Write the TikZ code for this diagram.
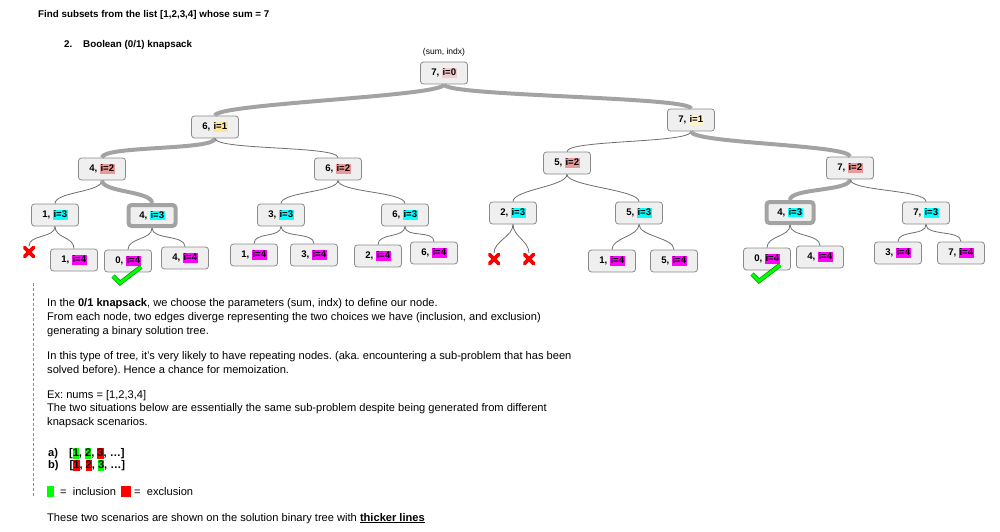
\documentclass[tikz,border=0pt]{standalone}
\usepackage{fontspec}
\setmainfont{Liberation Sans}
\frenchspacing

\definecolor{NodeFill}{HTML}{EFEFEF}
\definecolor{NodeLine}{HTML}{8A8A8A}
\definecolor{HeavyGray}{HTML}{A3A3A3}
\definecolor{LinkGray}{HTML}{6E6E6E}
\definecolor{IdxZero}{HTML}{F4CCCC}
\definecolor{IdxOne}{HTML}{FFE599}
\definecolor{IdxOneLight}{HTML}{FFF2CC}
\definecolor{IdxTwo}{HTML}{EA9999}
\definecolor{IdxThree}{HTML}{00FFFF}
\definecolor{IdxFour}{HTML}{FF00FF}
\definecolor{Incl}{HTML}{00FF00}
\definecolor{Excl}{HTML}{FF0000}

\newcommand{\hilite}[2]{{\setlength{\fboxsep}{0.5pt}\colorbox{#1}{\rule[-1.5pt]{0pt}{8.6pt}#2}}}
\newcommand{\pick}[2]{{\setlength{\fboxsep}{0pt}\colorbox{#1}{\rule[-2.5pt]{0pt}{9.8pt}#2}}}

\begin{document}
\begin{tikzpicture}[x=1pt, y=-1pt]
	\tikzstyle{State}	= [rectangle, rounded corners=3pt, draw=NodeLine, fill=NodeFill, line width=0.8pt, minimum width=47pt, minimum height=22pt, inner sep=0pt, font=\fontsize{9.6}{11}\selectfont\bfseries]
	\tikzstyle{Memo}	= [State, draw=HeavyGray, line width=4pt, minimum height=21pt]
	\tikzstyle{Dead}	= [minimum size=11.5pt, inner sep=0pt, path picture={\draw [Excl, line width=3.6pt] (path picture bounding box.north west) -- (path picture bounding box.south east) (path picture bounding box.north east) -- (path picture bounding box.south west);}]
	\tikzstyle{Link}	= [draw=LinkGray, line width=0.8pt, to path={(\tikztostart.south) .. controls +(0pt,-12pt) and +(0pt,12pt) .. (\tikztotarget.north)}]
	\tikzstyle{Heavy}	= [draw=HeavyGray, line width=4pt]
	\tikzstyle{Tick}	= [draw=green!55!black, line width=0.7pt, double=Incl, double distance=3pt]
	\tikzstyle{Guide}	= [draw=black!45, line width=0.6pt, dash pattern=on 3pt off 2pt]
	\tikzstyle{Note}	= [anchor=base west, inner sep=0pt, font=\fontsize{11.1}{13}\selectfont]
	\tikzstyle{Head}	= [Note, font=\fontsize{9.8}{12}\selectfont\bfseries]

	\useasboundingbox (0,0) rectangle (1000,532);

	% header
	\node (title) at (38,17.5) [Head] {Find subsets from the list [1,2,3,4] whose sum = 7};
	\node (num) at (64,47.5) [Head] {2.};
	\node (method) at (83,47.5) [Head] {Boolean (0/1) knapsack};
	\node (key) at (444,52) [inner sep=0pt, font=\fontsize{8.5}{10}\selectfont] {(sum, indx)};

	% solution tree
	\node (v) at (444,73) [State] {7, \hilite{IdxZero}{i=0}};
	\node (vL) at (215,127) [State] {6, \hilite{IdxOne}{i=1}};
	\node (vR) at (691,120) [State] {7, \hilite{IdxOneLight}{i=1}};

	\node (vLL) at (102,169) [State] {4, \hilite{IdxTwo}{i=2}};
	\node (vLR) at (338,169) [State] {6, \hilite{IdxTwo}{i=2}};
	\node (vRL) at (567,163) [State] {5, \hilite{IdxTwo}{i=2}};
	\node (vRR) at (850,168) [State] {7, \hilite{IdxTwo}{i=2}};

	\node (vLLL) at (55,215) [State] {1, \hilite{IdxThree}{i=3}};
	\node (vLLR) at (152,215.5) [Memo] {4, \hilite{IdxThree}{i=3}};
	\node (vLRL) at (281,215) [State] {3, \hilite{IdxThree}{i=3}};
	\node (vLRR) at (405,215) [State] {6, \hilite{IdxThree}{i=3}};
	\node (vRLL) at (513,213) [State] {2, \hilite{IdxThree}{i=3}};
	\node (vRLR) at (639,213) [State] {5, \hilite{IdxThree}{i=3}};
	\node (vRRL) at (790,212.5) [Memo] {4, \hilite{IdxThree}{i=3}};
	\node (vRRR) at (926,213) [State] {7, \hilite{IdxThree}{i=3}};

	\node (vLLLL) at (29,252) [Dead] {};
	\node (vLLLR) at (74,260) [State] {1, \hilite{IdxFour}{i=4}};
	\node (vLLRL) at (128,261) [State] {0, \hilite{IdxFour}{i=4}};
	\node (vLLRR) at (185,258) [State] {4, \hilite{IdxFour}{i=4}};
	\node (vLRLL) at (254,255) [State] {1, \hilite{IdxFour}{i=4}};
	\node (vLRLR) at (314,255) [State] {3, \hilite{IdxFour}{i=4}};
	\node (vLRRL) at (378,256) [State] {2, \hilite{IdxFour}{i=4}};
	\node (vLRRR) at (434,253) [State] {6, \hilite{IdxFour}{i=4}};
	\node (vRLLL) at (494,259) [Dead] {};
	\node (vRLLR) at (529,259) [Dead] {};
	\node (vRLRL) at (612,261) [State] {1, \hilite{IdxFour}{i=4}};
	\node (vRLRR) at (674,261) [State] {5, \hilite{IdxFour}{i=4}};
	\node (vRRLL) at (767,259) [State] {0, \hilite{IdxFour}{i=4}};
	\node (vRRLR) at (820,257) [State] {4, \hilite{IdxFour}{i=4}};
	\node (vRRRL) at (898,253) [State] {3, \hilite{IdxFour}{i=4}};
	\node (vRRRR) at (961,253) [State] {7, \hilite{IdxFour}{i=4}};

	\draw [Link] (v) to (vL) [Heavy];
	\draw [Link] (v) to (vR) [Heavy];
	\draw [Link] (vL) to (vLL) [Heavy];
	\draw [Link] (vL) to (vLR);
	\draw [Link] (vR) to (vRL);
	\draw [Link] (vR) to (vRR) [Heavy];
	\draw [Link] (vLL) to (vLLL);
	\draw [Link] (vLL) to (vLLR) [Heavy];
	\draw [Link] (vLR) to (vLRL);
	\draw [Link] (vLR) to (vLRR);
	\draw [Link] (vRL) to (vRLL);
	\draw [Link] (vRL) to (vRLR);
	\draw [Link] (vRR) to (vRRL) [Heavy];
	\draw [Link] (vRR) to (vRRR);
	\draw [Link] (vLLL) to (vLLLL);
	\draw [Link] (vLLL) to (vLLLR);
	\draw [Link] (vLLR) to (vLLRL);
	\draw [Link] (vLLR) to (vLLRR);
	\draw [Link] (vLRL) to (vLRLL);
	\draw [Link] (vLRL) to (vLRLR);
	\draw [Link] (vLRR) to (vLRRL);
	\draw [Link] (vLRR) to (vLRRR);
	\draw [Link] (vRLL) to (vRLLL);
	\draw [Link] (vRLL) to (vRLLR);
	\draw [Link] (vRLR) to (vRLRL);
	\draw [Link] (vRLR) to (vRLRR);
	\draw [Link] (vRRL) to (vRRLL);
	\draw [Link] (vRRL) to (vRRLR);
	\draw [Link] (vRRR) to (vRRRL);
	\draw [Link] (vRRR) to (vRRRR);

	% the two hits
	\draw [Tick] (113,276) -- (120,283) -- (141,267);
	\draw [Tick] (752,274) -- (759,281) -- (780,265);

	% explanation
	\draw [Guide] (33,283) -- (33,498);
	\node (p1) at (47,306) [Note] {In the \textbf{0/1 knapsack}, we choose the parameters (sum, indx) to define our node.};
	\node (p2) at (47,320) [Note] {From each node, two edges diverge representing the two choices we have (inclusion, and exclusion)};
	\node (p3) at (47,334) [Note] {generating a binary solution tree.};
	\node (p4) at (47,359) [Note] {In this type of tree, it's very likely to have repeating nodes. (aka. encountering a sub-problem that has been};
	\node (p5) at (47,373) [Note] {solved before). Hence a chance for memoization.};
	\node (p6) at (47,398) [Note] {Ex: nums = [1,2,3,4]};
	\node (p7) at (47,411.5) [Note] {The two situations below are essentially the same sub-problem despite being generated from different};
	\node (p8) at (47,425.5) [Note] {knapsack scenarios.};
	\node (caseA) at (48,456) [Note] {\textbf{a)\hspace{11pt}[\pick{Incl}{1}, \pick{Incl}{2}, \pick{Excl}{3}, …]}};
	\node (caseB) at (48,468) [Note] {\textbf{b)\hspace{11pt}[\pick{Excl}{1}, \pick{Excl}{2}, \pick{Incl}{3}, …]}};
	\node (swIn) at (50.5,491.5) [minimum width=7pt, minimum height=11pt, inner sep=0pt, fill=Incl] {};
	\node (lgIn) at (60,495) [Note] {=\ \ inclusion};
	\node (swEx) at (126,491.5) [minimum width=10pt, minimum height=11pt, inner sep=0pt, fill=Excl] {};
	\node (lgEx) at (134,495) [Note] {=\ \ exclusion};
	\node (outro) at (47,521) [Note] {These two scenarios are shown on the solution binary tree with \textbf{\underline{thicker lines}}};
\end{tikzpicture}
\end{document}
